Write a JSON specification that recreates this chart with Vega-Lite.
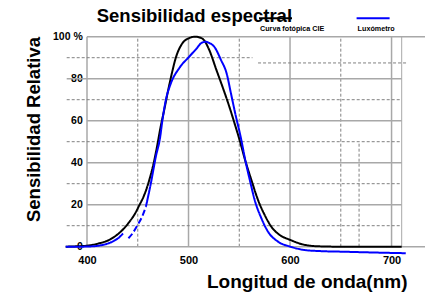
{
  "$schema": "https://vega.github.io/schema/vega-lite/v6.json",
  "width": 335,
  "height": 210,
  "autosize": {"type": "none"},
  "padding": {"left": 66.7, "top": 36.7, "right": 23.3, "bottom": 46.3},
  "background": "white",
  "title": {"text": "Sensibilidad espectral", "anchor": "start", "frame": "group", "dx": 30, "dy": 18.7, "offset": -10.7, "baseline": "alphabetic", "fontSize": 18.5, "fontWeight": "bold", "font": "Liberation Sans", "color": "black"},
  "datasets": {
    "vsolid": [
      {"nm": 400, "pct": 0, "pct2": 100},
      {"nm": 500, "pct": 0, "pct2": 100},
      {"nm": 600, "pct": 0, "pct2": 100},
      {"nm": 700, "pct": 0, "pct2": 100}
    ],
    "vedge": [
      {"nm": 710, "pct": 0, "pct2": 100}
    ],
    "vdash": [
      {"nm": 450, "pct": 0, "pct2": 100},
      {"nm": 550, "pct": 0, "pct2": 100},
      {"nm": 650, "pct": 0, "pct2": 100},
      {"nm": 668, "pct": 0, "pct2": 50}
    ],
    "hsolid": [
      {"pct": 0, "nm": 380, "nm2": 733},
      {"pct": 20, "nm": 400, "nm2": 710},
      {"pct": 40, "nm": 400, "nm2": 710},
      {"pct": 60, "nm": 400, "nm2": 710},
      {"pct": 80, "nm": 380, "nm2": 710},
      {"pct": 100, "nm": 400, "nm2": 733}
    ],
    "hdash": [
      {"pct": 10, "nm": 380, "nm2": 710},
      {"pct": 30, "nm": 380, "nm2": 710},
      {"pct": 50, "nm": 380, "nm2": 710},
      {"pct": 70, "nm": 380, "nm2": 710},
      {"pct": 90, "nm": 380, "nm2": 563},
      {"pct": 87.5, "nm": 568.5, "nm2": 715}
    ],
    "curves": [
      {"serie": "Curva fotópica CIE", "seg": "a", "nm": 379, "pct": 0},
      {"serie": "Curva fotópica CIE", "seg": "a", "nm": 390, "pct": 0.2},
      {"serie": "Curva fotópica CIE", "seg": "a", "nm": 400, "pct": 0.5},
      {"serie": "Curva fotópica CIE", "seg": "a", "nm": 411.8, "pct": 1.6},
      {"serie": "Curva fotópica CIE", "seg": "a", "nm": 421.7, "pct": 3.2},
      {"serie": "Curva fotópica CIE", "seg": "a", "nm": 430, "pct": 5.8},
      {"serie": "Curva fotópica CIE", "seg": "a", "nm": 436, "pct": 8.5},
      {"serie": "Curva fotópica CIE", "seg": "a", "nm": 442, "pct": 12},
      {"serie": "Curva fotópica CIE", "seg": "a", "nm": 447, "pct": 15.5},
      {"serie": "Curva fotópica CIE", "seg": "a", "nm": 451.3, "pct": 19.5},
      {"serie": "Curva fotópica CIE", "seg": "a", "nm": 456.3, "pct": 24.5},
      {"serie": "Curva fotópica CIE", "seg": "a", "nm": 461.2, "pct": 31.5},
      {"serie": "Curva fotópica CIE", "seg": "a", "nm": 466, "pct": 40.5},
      {"serie": "Curva fotópica CIE", "seg": "a", "nm": 469.5, "pct": 49},
      {"serie": "Curva fotópica CIE", "seg": "a", "nm": 472.5, "pct": 57},
      {"serie": "Curva fotópica CIE", "seg": "a", "nm": 476, "pct": 65},
      {"serie": "Curva fotópica CIE", "seg": "a", "nm": 479.3, "pct": 73},
      {"serie": "Curva fotópica CIE", "seg": "a", "nm": 483.6, "pct": 82.6},
      {"serie": "Curva fotópica CIE", "seg": "a", "nm": 487.5, "pct": 90},
      {"serie": "Curva fotópica CIE", "seg": "a", "nm": 494, "pct": 96.9},
      {"serie": "Curva fotópica CIE", "seg": "a", "nm": 500, "pct": 99.2},
      {"serie": "Curva fotópica CIE", "seg": "a", "nm": 506.6, "pct": 100},
      {"serie": "Curva fotópica CIE", "seg": "a", "nm": 512, "pct": 99.5},
      {"serie": "Curva fotópica CIE", "seg": "a", "nm": 515.5, "pct": 98.2},
      {"serie": "Curva fotópica CIE", "seg": "a", "nm": 520.4, "pct": 93.7},
      {"serie": "Curva fotópica CIE", "seg": "a", "nm": 527.6, "pct": 84},
      {"serie": "Curva fotópica CIE", "seg": "a", "nm": 533.6, "pct": 76},
      {"serie": "Curva fotópica CIE", "seg": "a", "nm": 540.2, "pct": 66.7},
      {"serie": "Curva fotópica CIE", "seg": "a", "nm": 545.5, "pct": 58.5},
      {"serie": "Curva fotópica CIE", "seg": "a", "nm": 550.5, "pct": 50.5},
      {"serie": "Curva fotópica CIE", "seg": "a", "nm": 555.3, "pct": 42},
      {"serie": "Curva fotópica CIE", "seg": "a", "nm": 561.9, "pct": 31.8},
      {"serie": "Curva fotópica CIE", "seg": "a", "nm": 568.5, "pct": 22.2},
      {"serie": "Curva fotópica CIE", "seg": "a", "nm": 575, "pct": 15.1},
      {"serie": "Curva fotópica CIE", "seg": "a", "nm": 581.6, "pct": 9.5},
      {"serie": "Curva fotópica CIE", "seg": "a", "nm": 589.8, "pct": 5.6},
      {"serie": "Curva fotópica CIE", "seg": "a", "nm": 600.4, "pct": 3.2},
      {"serie": "Curva fotópica CIE", "seg": "a", "nm": 611, "pct": 1.3},
      {"serie": "Curva fotópica CIE", "seg": "a", "nm": 627.7, "pct": 0.2},
      {"serie": "Curva fotópica CIE", "seg": "a", "nm": 650, "pct": 0},
      {"serie": "Curva fotópica CIE", "seg": "a", "nm": 680, "pct": 0},
      {"serie": "Curva fotópica CIE", "seg": "a", "nm": 710, "pct": 0},
      {"serie": "Luxómetro", "seg": "a", "nm": 379, "pct": 0},
      {"serie": "Luxómetro", "seg": "a", "nm": 390, "pct": 0},
      {"serie": "Luxómetro", "seg": "a", "nm": 402, "pct": 0.1},
      {"serie": "Luxómetro", "seg": "a", "nm": 415, "pct": 0.8},
      {"serie": "Luxómetro", "seg": "a", "nm": 425, "pct": 2.4},
      {"serie": "Luxómetro", "seg": "a", "nm": 431.6, "pct": 4.4},
      {"serie": "Luxómetro", "seg": "a", "nm": 435.5, "pct": 6.3},
      {"serie": "Luxómetro", "seg": "b", "nm": 440.8, "pct": 4},
      {"serie": "Luxómetro", "seg": "b", "nm": 444.8, "pct": 6.3},
      {"serie": "Luxómetro", "seg": "b", "nm": 450, "pct": 10.5},
      {"serie": "Luxómetro", "seg": "b", "nm": 454, "pct": 14},
      {"serie": "Luxómetro", "seg": "b", "nm": 458, "pct": 19},
      {"serie": "Luxómetro", "seg": "c", "nm": 458, "pct": 19},
      {"serie": "Luxómetro", "seg": "c", "nm": 462.9, "pct": 30.2},
      {"serie": "Luxómetro", "seg": "c", "nm": 467.8, "pct": 42.9},
      {"serie": "Luxómetro", "seg": "c", "nm": 472, "pct": 52},
      {"serie": "Luxómetro", "seg": "c", "nm": 474.3, "pct": 60.3},
      {"serie": "Luxómetro", "seg": "c", "nm": 477.7, "pct": 69.9},
      {"serie": "Luxómetro", "seg": "c", "nm": 482.6, "pct": 77.8},
      {"serie": "Luxómetro", "seg": "c", "nm": 490.8, "pct": 85},
      {"serie": "Luxómetro", "seg": "c", "nm": 500.7, "pct": 90.5},
      {"serie": "Luxómetro", "seg": "c", "nm": 507.3, "pct": 94},
      {"serie": "Luxómetro", "seg": "c", "nm": 513, "pct": 97.1},
      {"serie": "Luxómetro", "seg": "c", "nm": 517, "pct": 97.6},
      {"serie": "Luxómetro", "seg": "c", "nm": 520.5, "pct": 97},
      {"serie": "Luxómetro", "seg": "c", "nm": 525.4, "pct": 95.2},
      {"serie": "Luxómetro", "seg": "c", "nm": 532, "pct": 88.9},
      {"serie": "Luxómetro", "seg": "c", "nm": 537.5, "pct": 82.6},
      {"serie": "Luxómetro", "seg": "c", "nm": 541.8, "pct": 73},
      {"serie": "Luxómetro", "seg": "c", "nm": 546, "pct": 63.5},
      {"serie": "Luxómetro", "seg": "c", "nm": 551.5, "pct": 52},
      {"serie": "Luxómetro", "seg": "c", "nm": 556, "pct": 41},
      {"serie": "Luxómetro", "seg": "c", "nm": 560.5, "pct": 31.5},
      {"serie": "Luxómetro", "seg": "c", "nm": 565.2, "pct": 22.2},
      {"serie": "Luxómetro", "seg": "c", "nm": 571.8, "pct": 13.5},
      {"serie": "Luxómetro", "seg": "c", "nm": 578.4, "pct": 7.1},
      {"serie": "Luxómetro", "seg": "c", "nm": 588.2, "pct": 2.4},
      {"serie": "Luxómetro", "seg": "c", "nm": 600.4, "pct": 0},
      {"serie": "Luxómetro", "seg": "c", "nm": 614.6, "pct": -1.6},
      {"serie": "Luxómetro", "seg": "c", "nm": 630, "pct": -2.1},
      {"serie": "Luxómetro", "seg": "c", "nm": 654, "pct": -2.4},
      {"serie": "Luxómetro", "seg": "c", "nm": 685, "pct": -2.8},
      {"serie": "Luxómetro", "seg": "c", "nm": 714, "pct": -3.1}
    ]
  },
  "layer": [
    {
      "data": {"name": "vsolid"},
      "mark": {"type": "rule", "color": "#a8a8a8", "strokeWidth": 1.5},
      "encoding": {
        "x": {"field": "nm", "type": "quantitative", "scale": {"domain": [380, 710], "nice": false, "zero": false},
          "axis": {"values": [400, 500, 600, 700], "labelFontSize": 11, "labelPadding": 8, "title": "Longitud de onda(nm)", "titleFontSize": 19, "titleX": 340.3, "titleY": 40.6, "titleAlign": "right", "titleBaseline": "alphabetic"}},
        "y": {"field": "pct", "type": "quantitative", "scale": {"domain": [0, 100], "nice": false, "zero": false},
          "axis": {"values": [0, 20, 40, 60, 80, 100], "labelExpr": "datum.value == 100 ? '100 %' : datum.label", "labelFontSize": 10.5, "labelPadding": 6, "offset": -21.6, "title": "Sensibilidad Relativa", "titleFontSize": 18.5, "titleX": -48.3, "titleY": 92.3, "titleAlign": "center", "titleBaseline": "alphabetic"}},
        "y2": {"field": "pct2"}
      }
    },
    {
      "data": {"name": "vedge"},
      "mark": {"type": "rule", "color": "#a8a8a8", "strokeWidth": 1},
      "encoding": {
        "x": {"field": "nm", "type": "quantitative"},
        "y": {"field": "pct", "type": "quantitative"},
        "y2": {"field": "pct2"}
      }
    },
    {
      "data": {"name": "vdash"},
      "mark": {"type": "rule", "color": "#808080", "strokeWidth": 1, "strokeDash": [3, 2]},
      "encoding": {
        "x": {"field": "nm", "type": "quantitative"},
        "y": {"field": "pct", "type": "quantitative"},
        "y2": {"field": "pct2"}
      }
    },
    {
      "data": {"name": "hsolid"},
      "mark": {"type": "rule", "color": "#a8a8a8", "strokeWidth": 1.5},
      "encoding": {
        "y": {"field": "pct", "type": "quantitative"},
        "x": {"field": "nm", "type": "quantitative"},
        "x2": {"field": "nm2"}
      }
    },
    {
      "data": {"name": "hdash"},
      "mark": {"type": "rule", "color": "#808080", "strokeWidth": 1, "strokeDash": [3, 2]},
      "encoding": {
        "y": {"field": "pct", "type": "quantitative"},
        "x": {"field": "nm", "type": "quantitative"},
        "x2": {"field": "nm2"}
      }
    },
    {
      "data": {"name": "curves"},
      "mark": {"type": "line", "strokeWidth": 2, "interpolate": "monotone"},
      "encoding": {
        "x": {"field": "nm", "type": "quantitative"},
        "y": {"field": "pct", "type": "quantitative"},
        "color": {"field": "serie", "type": "nominal",
          "scale": {"domain": ["Curva fotópica CIE", "Luxómetro"], "range": ["#000000", "#0000ff"]},
          "legend": {"orient": "none", "legendX": 191.3, "legendY": -25.7, "direction": "horizontal", "title": null,
            "symbolType": "M-1,-0.636H1", "symbolSize": 1089, "symbolStrokeWidth": 2,
            "labelOffset": -33, "labelFont": "Liberation Sans", "labelFontWeight": "bold", "labelFontSize": 7.2, "labelColor": "black",
            "columnPadding": 27.6, "padding": 0}},
        "strokeDash": {"field": "seg", "type": "nominal", "scale": {"domain": ["a", "b", "c"], "range": [[1, 0], [6, 3], [1, 0]]}, "legend": null}
      }
    }
  ],
  "config": {
    "view": {"stroke": null},
    "font": "Liberation Sans",
    "axis": {"grid": false, "domain": false, "ticks": false, "labelFont": "Liberation Sans", "labelFontWeight": "bold", "labelColor": "black", "titleFont": "Liberation Sans", "titleFontWeight": "bold", "titleColor": "black"}
  }
}
